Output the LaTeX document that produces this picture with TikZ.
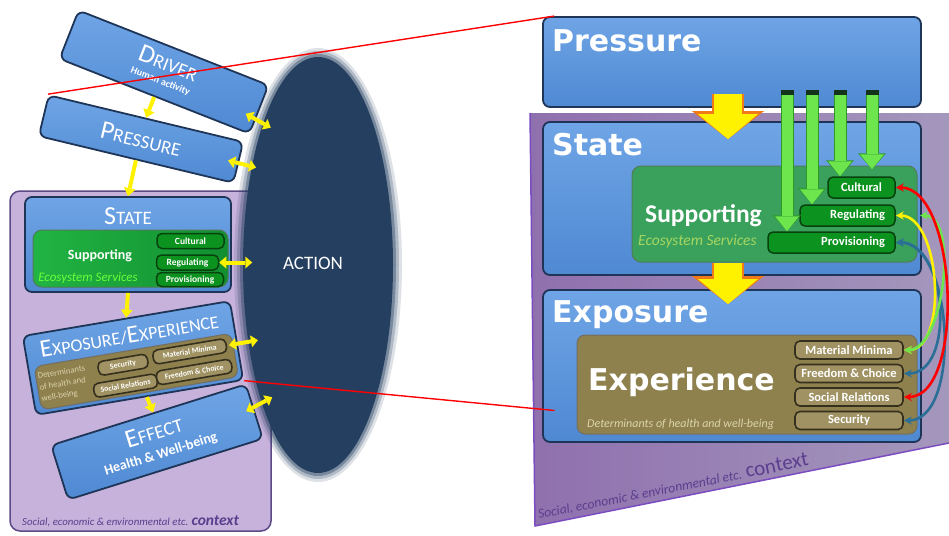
\documentclass[tikz,border=0pt]{standalone}
\usepackage{fontspec}
\setmainfont{Carlito}
\newfontfamily\headfont{DejaVu Sans}
\usetikzlibrary{arrows.meta,shapes.geometric,calc}

\definecolor{boxblue}{HTML}{4F89D2}
\definecolor{boxbluetop}{HTML}{6FA5E6}
\definecolor{boxedge}{HTML}{1E3558}
\definecolor{actionblue}{HTML}{243F60}
\definecolor{ctxlight}{HTML}{C7B2DB}
\definecolor{ctxedge}{HTML}{5C4A86}
\definecolor{ctxdeep}{HTML}{8F70AE}
\definecolor{ctxgrey}{HTML}{A497BC}
\definecolor{ctxline}{HTML}{7A4CC0}
\definecolor{ctxtext}{HTML}{5B3E8E}
\definecolor{suppgreen}{HTML}{39A15C}
\definecolor{suppbright}{HTML}{21B443}
\definecolor{suppdark}{HTML}{128F31}
\definecolor{pillgreen}{HTML}{0C921E}
\definecolor{pilledge}{HTML}{08420F}
\definecolor{expbrown}{HTML}{8E814E}
\definecolor{pilltan}{HTML}{A09262}
\definecolor{tanedge}{HTML}{35301E}
\definecolor{tantext}{HTML}{DCD3AC}
\definecolor{ecogreen}{HTML}{A8D660}
\definecolor{ecobright}{HTML}{6CFF3A}
\definecolor{arrgreen}{HTML}{6DE64E}
\definecolor{arredge}{HTML}{2F9A26}
\definecolor{capgreen}{HTML}{13331A}
\definecolor{arrblue}{HTML}{2B6E96}
\definecolor{arrorange}{HTML}{F07A18}
\definecolor{yellowarr}{HTML}{FFF200}

\begin{document}
\begin{tikzpicture}[x=1pt,y=-1pt,
bluebox/.style={draw=boxedge,line width=1.8pt,rounded corners=7pt,top color=boxbluetop,bottom color=boxblue,inner sep=0pt},
suppbox/.style={draw=pilledge!70,line width=1pt,rounded corners=9pt,fill=suppgreen,inner sep=0pt},
tanbox/.style={draw=tanedge!70,line width=1pt,rounded corners=8pt,fill=expbrown,inner sep=0pt},
pill/.style={draw=pilledge,line width=1.5pt,rounded corners=5pt,fill=pillgreen,text=white,inner sep=0pt},
tanpill/.style={draw=tanedge,line width=1.6pt,rounded corners=5pt,fill=pilltan,text=white,inner sep=0pt},
headtxt/.style={text=white,inner sep=0pt,anchor=base west,font=\headfont\bfseries\fontsize{30}{32}\selectfont},
capstxt/.style={text=white,inner sep=0pt},
yarr/.style={draw=yellowarr,line width=4pt,-{Triangle[length=8pt,width=12pt,line width=0pt]}},
yboth/.style={draw=yellowarr,line width=4pt,{Triangle[length=7pt,width=12pt,line width=0pt]}-{Triangle[length=7pt,width=12pt,line width=0pt]}},
bigarr/.style={draw=yellowarr,line width=28pt,-{Triangle[length=25pt,width=60pt,line width=0pt]},
  preaction={draw=arrorange,line width=32pt,-{Triangle[length=28pt,width=72pt,line width=0pt]}}},
garr/.style={draw=arrgreen,line width=11pt,{Rectangle[length=5pt,width=13pt,line width=0pt,color=capgreen]}-{Triangle[length=15pt,width=24pt,line width=0pt]},
  preaction={draw=arredge,line width=13pt,-{Triangle[length=16pt,width=28pt,line width=0pt]}}},
cboth/.style={line width=2.6pt,{Stealth[length=8pt,width=8pt]}-{Stealth[length=8pt,width=8pt]}},
redline/.style={draw=red,line width=1.4pt}]
\useasboundingbox (0,0) rectangle (949,535);

% context panels
\node[draw=ctxedge,line width=1.5pt,rounded corners=10pt,fill=ctxlight,minimum width=261pt,minimum height=340pt,inner sep=0pt] (ctxL) at (140.5,361) {};
\shade[left color=ctxdeep,right color=ctxgrey] (530,113) -- (949,113) -- (949,443) -- (535,526) -- cycle;
\draw[ctxline,line width=1.5pt] (949,443) -- (535,526) -- (530,113);
\node[text=ctxtext,anchor=base west,inner sep=0pt,font=\itshape\fontsize{10.8}{12}\selectfont] (ctxLT) at (22,525) {Social, economic \& environmental etc. {\bfseries\fontsize{15.5}{16}\selectfont context}};
\node[text=ctxtext,anchor=base west,inner sep=0pt,rotate=11.2,font=\itshape\fontsize{13.5}{15}\selectfont] (ctxRT) at (539,519) {Social, economic \& environmental etc. {\upshape\fontsize{21}{22}\selectfont context}};

% action
\coordinate (actc) at (318,265);
\fill[actionblue,opacity=.15] (actc) ellipse [x radius=84,y radius=217];
\fill[actionblue,opacity=.25] (actc) ellipse [x radius=81,y radius=214];
\fill[actionblue,opacity=.4] (actc) ellipse [x radius=78,y radius=211];
\node[ellipse,fill=actionblue,minimum width=150pt,minimum height=416pt,inner sep=0pt] (action) at (actc) {};
\node[text=white,font=\fontsize{19}{20}\selectfont] (actionT) at (313,263) {ACTION};

% left chain
\begin{scope}[shift={(164,72)},rotate=-21.5,transform shape]
\node[bluebox,minimum width=204pt,minimum height=52pt] (driver) at (0,0) {};
\node[capstxt] (driverT) at (1,-10) {\fontsize{26}{28}\selectfont D\fontsize{19}{20}\selectfont RIVER};
\node[capstxt,font=\bfseries\fontsize{10}{11}\selectfont] (driverS) at (0,10) {Human activity};
\end{scope}
\begin{scope}[shift={(141,139)},rotate=-13.5,transform shape]
\node[bluebox,minimum width=200pt,minimum height=42pt] (presL) at (0,0) {};
\node[capstxt] (presLT) at (0,0) {\fontsize{26}{28}\selectfont P\fontsize{19}{20}\selectfont RESSURE};
\end{scope}
\node[bluebox,minimum width=206pt,minimum height=95pt] (stateL) at (128,244.5) {};
\node[capstxt] (stateLT) at (128,216) {\fontsize{26}{28}\selectfont S\fontsize{19}{20}\selectfont TATE};
\node[suppbox,left color=suppbright,right color=suppdark,minimum width=195pt,minimum height=57pt] (suppL) at (130.5,258.5) {};
\node[text=white,font=\bfseries\fontsize{14}{15}\selectfont] (suppLT) at (100,256) {Supporting};
\node[text=ecobright,inner sep=1pt,font=\itshape\fontsize{13}{14}\selectfont] (ecoL) at (88,278) {Ecosystem Services};
\node[pill,minimum width=67pt,minimum height=15pt,font=\bfseries\fontsize{9.5}{10}\selectfont] (cultL) at (190.5,241) {Cultural};
\node[pill,minimum width=62pt,minimum height=15pt,font=\bfseries\fontsize{9.5}{10}\selectfont] (regL) at (187.5,262.5) {Regulating};
\node[pill,minimum width=67pt,minimum height=14pt,font=\bfseries\fontsize{9.5}{10}\selectfont] (provL) at (190,279.5) {Provisioning};
\begin{scope}[shift={(133,358)},rotate=9.6,transform shape]
\node[bluebox,minimum width=210pt,minimum height=80pt] (expoL) at (0,0) {};
\node[capstxt] (expoLT) at (0,-23) {\fontsize{25}{26}\selectfont E\fontsize{18}{19}\selectfont XPOSURE/\fontsize{25}{26}\selectfont E\fontsize{18}{19}\selectfont XPERIENCE};
\node[tanbox,minimum width=200pt,minimum height=44pt] (detL) at (1,14) {};
\node[text=tantext,anchor=west,align=left,inner sep=0pt,font=\fontsize{8.6}{11.5}\selectfont] (detLT) at (-97,14) {Determinants\\of health and\\well-being};
\node[tanpill,minimum width=50pt,minimum height=14pt,font=\bfseries\fontsize{7.8}{8}\selectfont] (secL) at (-11,5) {Security};
\node[tanpill,minimum width=74pt,minimum height=14pt,font=\bfseries\fontsize{7.8}{8}\selectfont] (matL) at (57,3) {Material Minima};
\node[tanpill,minimum width=64pt,minimum height=14pt,font=\bfseries\fontsize{7.8}{8}\selectfont] (socL) at (-12,26) {Social Relations};
\node[tanpill,minimum width=76pt,minimum height=14pt,font=\bfseries\fontsize{7.8}{8}\selectfont] (freeL) at (58,24) {Freedom \& Choice};
\end{scope}
\begin{scope}[shift={(157,442)},rotate=17.4,transform shape]
\node[bluebox,minimum width=204pt,minimum height=57pt] (effect) at (0,0) {};
\node[capstxt] (effectT) at (0,-11) {\fontsize{26}{28}\selectfont E\fontsize{19}{20}\selectfont FFECT};
\node[capstxt,font=\bfseries\fontsize{14}{15}\selectfont] (effectS) at (0,13) {Health \& Well-being};
\end{scope}
\draw[yarr] (driver.south) -- (presL.north);
\draw[yarr] (presL.south) -- (stateL.north);
\draw[yarr] (stateL.south) -- (expoL.north);
\draw[yarr] (expoL.-80) -- (effect.80);
\draw[yboth] ([xshift=-14pt,yshift=-4pt]driver.east) -- ++(25,14);
\draw[yboth] ([xshift=-11pt,yshift=2pt]presL.east) -- ++(28,7);
\draw[yboth] (regL.east) -- ++(33,0);
\draw[yboth] ([xshift=2pt]matL.east) -- ++(29,-5);
\draw[yboth] ([xshift=-9pt]effect.east) -- ++(26,-14);

% right zoom
\node[bluebox,minimum width=378pt,minimum height=90pt] (presR) at (732,62) {};
\node[bluebox,minimum width=378pt,minimum height=153pt] (stateR) at (732,198.5) {};
\node[bluebox,minimum width=378pt,minimum height=152pt] (expR) at (732,366) {};
\node[headtxt] (presRT) at (552,52) {Pressure};
\node[headtxt] (stateRT) at (552,155) {State};
\node[headtxt] (expRT) at (552,322) {Exposure};
\node[suppbox,minimum width=285pt,minimum height=96pt] (suppR) at (774.5,214) {};
\node[text=white,inner sep=0pt,anchor=base west,font=\bfseries\fontsize{25.5}{27}\selectfont] (suppRT) at (645,222) {Supporting};
\node[text=ecogreen,inner sep=0pt,anchor=base west,font=\itshape\fontsize{15.5}{17}\selectfont] (ecoR) at (638,245) {Ecosystem Services};
\node[pill,minimum width=67pt,minimum height=21pt,font=\bfseries\fontsize{12.5}{13}\selectfont] (cultR) at (861.5,187.5) {Cultural};
\node[pill,minimum height=21pt,text width=75pt,inner xsep=10pt,align=right,font=\bfseries\fontsize{12.5}{13}\selectfont] (regR) at (847.5,215.5) {Regulating};
\node[pill,minimum height=21pt,text width=107pt,inner xsep=10pt,align=right,font=\bfseries\fontsize{12.5}{13}\selectfont] (provR) at (831.5,242.5) {Provisioning};
\node[tanbox,minimum width=340pt,minimum height=99pt] (expeR) at (747,384.5) {};
\node[headtxt] (expeRT) at (588,390) {Experience};
\node[text=tantext,inner sep=0pt,anchor=base west,font=\itshape\fontsize{12}{13}\selectfont] (detR) at (587,427) {Determinants of health and well-being};
\node[tanpill,minimum width=108pt,minimum height=18pt,font=\bfseries\fontsize{12.5}{13}\selectfont] (matR) at (849,350) {Material Minima};
\node[tanpill,minimum width=108pt,minimum height=18pt,font=\bfseries\fontsize{12.5}{13}\selectfont] (freeR) at (849,373.5) {Freedom \& Choice};
\node[tanpill,minimum width=108pt,minimum height=18pt,font=\bfseries\fontsize{12.5}{13}\selectfont] (socR) at (849,397) {Social Relations};
\node[tanpill,minimum width=108pt,minimum height=18pt,font=\bfseries\fontsize{12.5}{13}\selectfont] (secR) at (849,420.5) {Security};
\draw[bigarr] ([xshift=-4pt,yshift=14pt]presR.south) -- ([xshift=-4pt,yshift=-18pt]stateR.north);
\draw[bigarr] ([xshift=-4pt,yshift=13pt]stateR.south) -- ([xshift=-4pt,yshift=-15pt]expR.north);
\coordinate (g1) at (787,90);
\coordinate (g2) at (812,90);
\coordinate (g3) at (840,90);
\coordinate (g4) at (872,90);
\draw[garr] (g1) -- (g1 |- provR.north);
\draw[garr] (g2) -- (g2 |- regR.north);
\draw[garr] (g3) -- (g3 |- cultR.north);
\draw[garr] (g4) -- ($(g4 |- cultR.north)+(0,-7)$);
\draw[cboth,arrblue] (provR.east) to[out=0,in=0,distance=52pt] (freeR.east);
\draw[cboth,arrblue] (provR.east) to[out=0,in=0,distance=58pt] (secR.east);
\draw[cboth,yellow] (regR.east) to[out=0,in=0,distance=45pt] (matR.east);
\draw[cboth,arrgreen] ([xshift=24pt]regR.east) to[out=0,in=0,distance=40pt] (matR.east);
\draw[cboth,red] (cultR.east) to[out=0,in=0,distance=62pt] (socR.east);

% zoom lines
\draw[redline] (presL.north west) -- ([xshift=12pt]presR.north west);
\draw[redline] (expoL.south east) -- ([xshift=-22pt,yshift=-26pt]expeR.west);
\end{tikzpicture}
\end{document}
